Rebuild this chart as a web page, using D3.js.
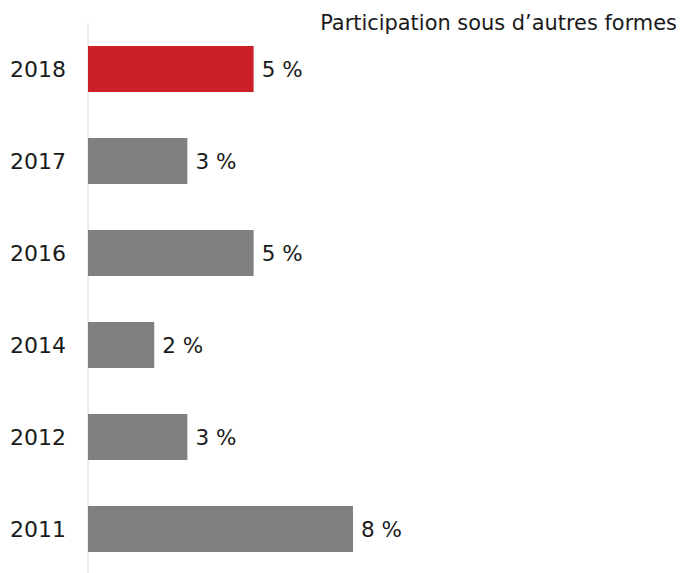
<!DOCTYPE html>
<html><head><meta charset="utf-8">
<script src="https://cdn.jsdelivr.net/npm/d3@7"></script>
<style>body{margin:0;background:#fff}svg{display:block}</style>
</head><body>
<script>
const years = ["2018","2017","2016","2014","2012","2011"];
const values = [5,3,5,2,3,8];
const labels = ["5 %","3 %","5 %","2 %","3 %","8 %"];
const title = "Participation sous d’autres formes";

const W=680,H=573;
const svg=d3.select("body").append("svg").attr("width",W).attr("height",H);
const font="DejaVu Sans, sans-serif";
const x=d3.scaleLinear().domain([0,8]).range([88,353]);
const y=d3.scaleBand().domain(years).range([23,575]).paddingInner(0.5).paddingOuter(0.25);

svg.append("line").attr("x1",88).attr("x2",88).attr("y1",23).attr("y2",H)
  .attr("stroke","#ececec").attr("stroke-width",2);

svg.selectAll("rect.bar").data(years).join("rect").attr("class","bar")
  .attr("x",x(0)).attr("y",d=>y(d)).attr("height",y.bandwidth())
  .attr("width",(d,i)=>x(values[i])-x(0))
  .attr("fill",(d,i)=>i===0?"#cc2029":"#808080");

svg.selectAll("text.val").data(years).join("text").attr("class","val")
  .attr("x",(d,i)=>x(values[i])+8).attr("y",d=>y(d)+y.bandwidth()/2)
  .attr("dy","0.36em").attr("font-family",font).attr("font-size",21.5).attr("fill","#1a1a1a")
  .text((d,i)=>labels[i]);

svg.selectAll("text.yr").data(years).join("text").attr("class","yr")
  .attr("x",66).attr("y",d=>y(d)+y.bandwidth()/2).attr("text-anchor","end")
  .attr("dy","0.36em").attr("font-family",font).attr("font-size",22).attr("fill","#1a1a1a")
  .text(d=>d);

const t=svg.append("text").attr("x",677).attr("y",30).attr("text-anchor","end")
  .attr("font-family",font).attr("font-size",20).attr("fill","#1a1a1a").text(title);
const len=t.node().getComputedTextLength();
t.attr("font-size",20*357/len);
</script>
</body></html>
